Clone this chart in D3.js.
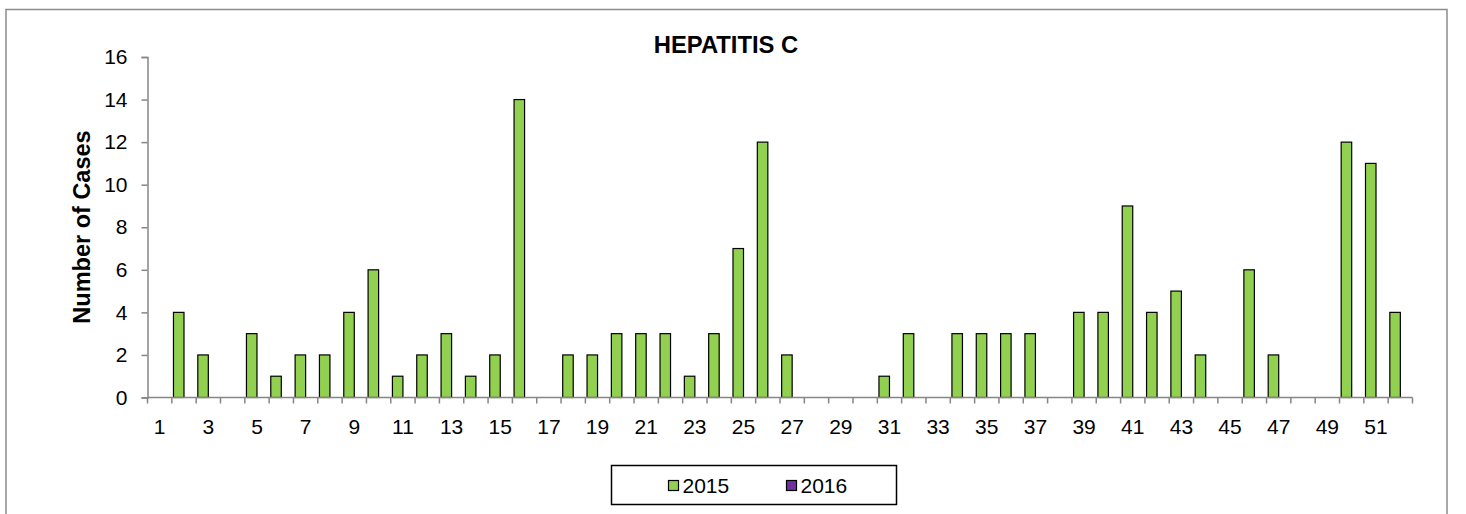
<!DOCTYPE html>
<html>
<head>
<meta charset="utf-8">
<script src="https://cdn.jsdelivr.net/npm/d3@7"></script>
<style>
  html, body { margin: 0; padding: 0; background: #fff; }
  svg { display: block; font-family: "Liberation Sans", Arial, sans-serif; }
</style>
</head>
<body>
<svg id="chart" width="1466" height="514"></svg>
<script>
const weeks = d3.range(1, 53);
const seriesNames = ["2015", "2016"];
const cases2015 = [0,4,2,0,3,1,2,2,4,6,1,2,3,1,2,14,0,2,2,3,3,3,1,3,7,12,2,0,0,0,1,3,0,3,3,3,3,0,4,4,9,4,5,2,0,6,2,0,0,12,11,4];
const cases2016 = [];
const yTicks = [0,2,4,6,8,10,12,14,16];
const xTickLabels = weeks.filter(w => w % 2 === 1);
const seriesColors = ["#92D050", "#7030A0"];
const title = "HEPATITIS C";
const yLabel = "Number of Cases";

const svg = d3.select("#chart");
const axisColor = "#868686";

// outer frame
svg.append("rect").attr("x", 6).attr("y", 9.5).attr("width", 1441).attr("height", 520)
  .attr("fill", "none").attr("stroke", "#8c8c8c").attr("stroke-width", 1.5);

const x0 = 147.5, x1 = 1412.5, yTop = 57, yBot = 397.5;
const x = d3.scaleBand().domain(weeks).range([x0, x1]).padding(0);
const xs = d3.scaleBand().domain(seriesNames).range([0, x.bandwidth()]).paddingInner(0).paddingOuter(0.157);
const y = d3.scaleLinear().domain([0, 16]).range([yBot, yTop]);

// bars
const series = [cases2015, cases2016];
series.forEach((vals, si) => {
  svg.append("g").selectAll("rect")
    .data(vals.map((v, i) => ({ w: weeks[i], v })).filter(d => d.v > 0))
    .join("rect")
    .attr("x", d => x(d.w) + xs(seriesNames[si]))
    .attr("y", d => y(d.v))
    .attr("width", xs.bandwidth())
    .attr("height", d => yBot - y(d.v))
    .attr("fill", seriesColors[si])
    .attr("stroke", "#000").attr("stroke-width", 1.2);
});

// y axis
const yAxis = svg.append("g").attr("transform", `translate(${x0},0)`)
  .call(d3.axisLeft(y).tickValues(yTicks).tickSize(6).tickPadding(14));
yAxis.select(".domain").attr("stroke", axisColor).attr("stroke-width", 1.5);
yAxis.selectAll(".tick line").attr("stroke", axisColor).attr("stroke-width", 1.5);
yAxis.selectAll(".tick text").attr("font-size", 21).attr("fill", "#000")
  .attr("font-family", "Liberation Sans, Arial, sans-serif");

// x axis
const xAxisG = svg.append("g").attr("transform", `translate(0,${yBot})`);
xAxisG.append("line").attr("x1", x0).attr("x2", x1).attr("y1", 0).attr("y2", 0)
  .attr("stroke", axisColor).attr("stroke-width", 1.5);
const boundaries = weeks.map(w => x(w)).concat([x1]);
xAxisG.selectAll("line.tk").data(boundaries).join("line").attr("class", "tk")
  .attr("x1", d => d).attr("x2", d => d).attr("y1", 0).attr("y2", 6)
  .attr("stroke", axisColor).attr("stroke-width", 1.5);
xAxisG.selectAll("text").data(xTickLabels).join("text")
  .attr("x", d => x(d) + x.bandwidth() / 2)
  .attr("y", 36.5)
  .attr("text-anchor", "middle")
  .attr("font-size", 21).attr("fill", "#000")
  .text(d => d);

// title
svg.append("text").attr("x", 726).attr("y", 52.5).attr("text-anchor", "middle")
  .attr("font-size", 23.8).attr("font-weight", "bold").attr("fill", "#000").text(title);

// y label
svg.append("text").attr("transform", `translate(90,227) rotate(-90)`)
  .attr("text-anchor", "middle").attr("font-size", 23.5).attr("font-weight", "bold")
  .attr("fill", "#000").text(yLabel);

// legend
const lg = svg.append("g");
lg.append("rect").attr("x", 611.5).attr("y", 465.5).attr("width", 285).attr("height", 39)
  .attr("fill", "#fff").attr("stroke", "#000").attr("stroke-width", 1.5);
const legendX = [668.5, 786.5];
seriesNames.forEach((s, i) => {
  lg.append("rect").attr("x", legendX[i]).attr("y", 480.5).attr("width", 10).attr("height", 10)
    .attr("fill", seriesColors[i]).attr("stroke", "#000").attr("stroke-width", 1.2);
  lg.append("text").attr("x", legendX[i] + 14).attr("y", 492.5)
    .attr("font-size", 21).attr("fill", "#000").text(s);
});
</script>
</body>
</html>
